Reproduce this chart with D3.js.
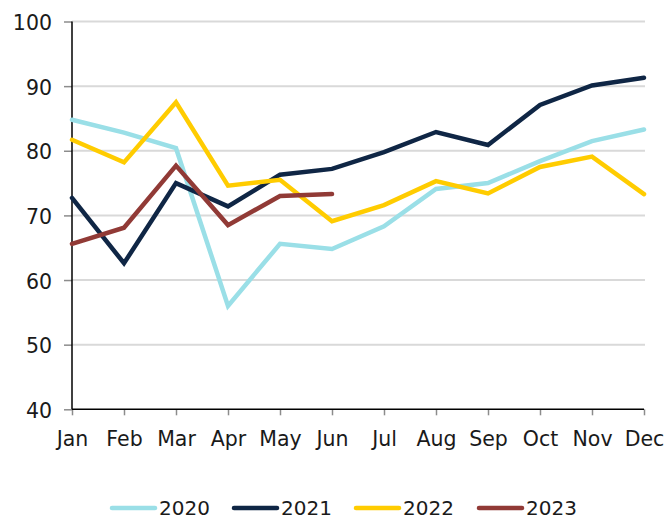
<!DOCTYPE html>
<html>
<head>
<meta charset="utf-8">
<script src="https://cdn.jsdelivr.net/npm/d3@7"></script>
<style>
  body { margin: 0; background: #fff; }
  text { font-family: "DejaVu Sans", Verdana, sans-serif; fill: #1a1a1a; }
</style>
</head>
<body>
<svg width="667" height="516"></svg>
<script>
const months = ['Jan','Feb','Mar','Apr','May','Jun','Jul','Aug','Sep','Oct','Nov','Dec'];
const yTicks = [40, 50, 60, 70, 80, 90, 100];

const v2020 = [84.8, 82.8, 80.4, 56.0, 65.6, 64.8, 68.3, 74.1, 75.0, 78.4, 81.5, 83.3];
const v2021 = [72.7, 62.6, 75.0, 71.4, 76.3, 77.2, 79.8, 82.9, 80.9, 87.1, 90.1, 91.3];
const v2022 = [81.7, 78.2, 87.5, 74.6, 75.5, 69.1, 71.6, 75.3, 73.4, 77.5, 79.1, 73.3];
const v2023 = [65.6, 68.1, 77.7, 68.5, 73.0, 73.3];

const seriesNames = ['2020', '2021', '2022', '2023'];
const colors = ['#9adfe7', '#0f2645', '#ffcc00', '#913a36'];
const seriesList = [v2020, v2021, v2022, v2023];

const svg = d3.select('svg');
const margin = {left: 72, right: 644, top: 21.5, bottom: 409.3};
const fontSize = '20.5px';

const x = d3.scalePoint().domain(months).range([margin.left, margin.right]);
const y = d3.scaleLinear().domain([40, 100]).range([margin.bottom, margin.top]);

// grid
svg.append('g')
    .selectAll('line')
    .data(yTicks.filter(d => d > 40))
    .enter().append('line')
    .attr('x1', margin.left).attr('x2', margin.right + 1)
    .attr('y1', d => y(d)).attr('y2', d => y(d))
    .style('stroke', '#d9d9d9')
    .style('stroke-width', 2);

// y axis
let yAxis = d3.axisLeft(y).tickValues(yTicks).tickSize(8).tickPadding(12);
let yg = svg.append('g')
    .attr('transform', 'translate(' + margin.left + ',0)')
    .call(yAxis);
yg.select('.domain').remove();
yg.selectAll('.tick line').style('stroke', '#8c8c8c').style('stroke-width', 1.5);
yg.selectAll('.tick text').style('font-size', fontSize).attr('dy', '0.4em')
    .style('font-family', '"DejaVu Sans", Verdana, sans-serif').style('fill', '#1a1a1a');

// x axis
let xAxis = d3.axisBottom(x).tickSize(6).tickPadding(16);
let xg = svg.append('g')
    .attr('transform', 'translate(0,' + margin.bottom + ')')
    .call(xAxis);
xg.select('.domain').remove();
xg.selectAll('.tick line').style('stroke', '#8c8c8c').style('stroke-width', 1.5);
xg.selectAll('.tick text').style('font-size', fontSize)
    .style('font-family', '"DejaVu Sans", Verdana, sans-serif').style('fill', '#1a1a1a');

// axis lines
svg.append('line')
    .attr('x1', margin.left).attr('x2', margin.left)
    .attr('y1', margin.top).attr('y2', margin.bottom)
    .style('stroke', '#000').style('stroke-width', 1.5);
svg.append('line')
    .attr('x1', margin.left).attr('x2', margin.right)
    .attr('y1', margin.bottom).attr('y2', margin.bottom)
    .style('stroke', '#000').style('stroke-width', 1.5);

// lines
let line = d3.line()
    .x((d, i) => x(months[i]))
    .y(d => y(d));

seriesList.forEach((vals, i) => {
    svg.append('path')
        .datum(vals)
        .attr('d', line)
        .style('fill', 'none')
        .style('stroke', colors[i])
        .style('stroke-width', 4.5)
        .style('stroke-linejoin', 'miter')
        .style('stroke-linecap', 'round');
});

// legend
const legendX = [112, 234, 356, 479];
let legend = svg.append('g');
seriesNames.forEach((name, i) => {
    legend.append('line')
        .attr('x1', legendX[i]).attr('x2', legendX[i] + 43)
        .attr('y1', 508).attr('y2', 508)
        .style('stroke', colors[i])
        .style('stroke-width', 4.5)
        .style('stroke-linecap', 'round');
    legend.append('text')
        .attr('x', legendX[i] + 47)
        .attr('y', 514.5)
        .style('font-size', '20px')
        .text(name);
});
</script>
</body>
</html>
